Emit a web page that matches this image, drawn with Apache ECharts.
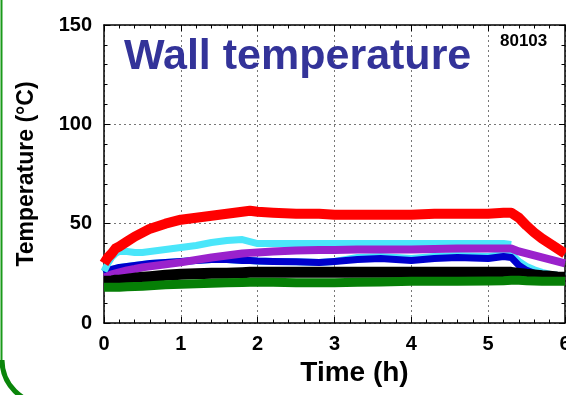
<!DOCTYPE html>
<html>
<head>
<meta charset="utf-8">
<script src="https://cdn.jsdelivr.net/npm/echarts@6/dist/echarts.min.js"></script>
<style>
  html, body { margin: 0; padding: 0; background: #fff; }
  #chart { width: 566px; height: 395px; }
</style>
</head>
<body>
<div id="chart"></div>
<script>
  // time axis (h) shared by all sensors
  var times = [0, 0.05, 0.1, 0.15, 0.2, 0.3, 0.4, 0.5, 0.6, 0.8, 1.0, 1.2, 1.4, 1.6, 1.8, 1.9, 2.0, 2.2, 2.5, 2.8,
               3.0, 3.3, 3.6, 4.0, 4.3, 4.6, 5.0, 5.2, 5.3, 5.4, 5.5, 5.6, 5.7, 5.8, 5.9, 6.0];

  var redT    = [30, 33, 35, 37.5, 38.5, 41, 43.5, 45.5, 47.5, 50, 52, 53, 54, 55, 56, 56.5, 56, 55.5, 55, 55,
                 54.5, 54.5, 54.5, 54.5, 55, 55, 55, 55.5, 55.5, 53, 49, 45.5, 42.5, 40, 37.5, 35];
  var cyanT   = [26, 30, 33, 35, 36, 36, 35.5, 35.5, 36, 37, 38, 39, 40.5, 41.5, 42, 41, 40, 40, 40, 40,
                 40, 40, 40, 40, 40, 40, 40, 40, 39.5, null, null, null, null, null, null, null];
  var cyan2T  = [25, 26, 27, 27.5, 28, 28.5, 29, 29.5, 30, 30.5, 31, 31.5, 32, 32, 31.5, 31.5, 31.2, 31, 30.8, 30.5,
                 31, 33, 33.5, 32.5, 33.5, 34, 33.5, 34.5, 34.5, 31, 28.5, 26.8, 25.5, 24.6, 24, 23.6];
  var blueT   = [25, 26, 27, 27.5, 28, 28.5, 29, 29.5, 30, 30.5, 31, 31.5, 32, 32, 31.5, 31.5, 31.2, 31, 30.8, 30.5,
                 31, 32, 32.5, 31.5, 32.5, 33, 32.5, 33.5, 33, 29, 26.5, 25, 23.5, 22.5, 22, 22];
  var purpleT = [23, 23.5, 24.5, 25, 25.5, 26.5, 27.2, 28, 28.5, 29.5, 30.5, 31.8, 33, 34, 35, 35.3, 35.5, 36, 36.5, 36.7,
                 36.8, 37, 37, 37, 37.2, 37.5, 37.5, 37.5, 37.5, 36, 35, 34, 33, 32, 31, 30];
  var blackT  = [21, 21, 21.2, 21.5, 21.5, 22, 22.5, 23, 23.3, 24, 24.5, 24.8, 25, 25, 25.3, 25.5, 25.5, 25.5, 25.5, 25.5,
                 25.5, 25.5, 25.5, 25.5, 25.5, 25.5, 25.5, 25.5, 25.5, 25, 24.5, 24.2, 23.8, 23.5, 23.2, 23];
  var greenT  = [18, 18, 18, 18, 18, 18.2, 18.4, 18.5, 18.8, 19.2, 19.5, 19.7, 20, 20.2, 20.4, 20.5, 20.5, 20.5, 20.3, 20.3,
                 20.3, 20.5, 20.7, 21, 21, 21, 21.2, 21.3, 21.5, 21.5, 21.3, 21.2, 21, 21, 21, 21];

  var xTicks = [0, 1, 2, 3, 4, 5, 6];
  var yTicks = [0, 50, 100, 150];

  var font = '"Liberation Sans", Arial, Helvetica, sans-serif';

  function pairs(vals) {
    return times.map(function (t, i) { return [t, vals[i]]; });
  }
  function line(name, vals, color, width) {
    return {
      name: name,
      type: 'line',
      showSymbol: false,
      connectNulls: false,
      data: pairs(vals),
      lineStyle: { color: color, width: width, join: 'round' },
      itemStyle: { color: color }
    };
  }

  function axisCommon(showLabel) {
    return {
      axisLine: { show: true, onZero: false, lineStyle: { color: '#000', width: 1.5 } },
      axisTick: { show: true, inside: true, length: 6, lineStyle: { color: '#000', width: 1 } },
      minorTick: { show: true, splitNumber: 5, length: 3.5, lineStyle: { color: '#000', width: 1 } },
      splitLine: { show: showLabel, lineStyle: { color: '#777', width: 1, type: [2, 3] } },
      axisLabel: { show: showLabel }
    };
  }

  var chart = echarts.init(document.getElementById('chart'));

  var xBottom = Object.assign(axisCommon(true), {
    type: 'value', position: 'bottom', min: xTicks[0], max: xTicks[xTicks.length - 1], interval: 1,
    name: 'Time (h)', nameLocation: 'middle', nameGap: 34,
    nameTextStyle: { fontFamily: font, fontWeight: 'bold', fontSize: 28, color: '#000', padding: [0, 0, 0, 40] }
  });
  xBottom.axisLabel = { show: true, margin: 11, color: '#000', fontFamily: font, fontWeight: 'bold', fontSize: 20 };

  var xTop = Object.assign(axisCommon(false), {
    type: 'value', position: 'top', min: xTicks[0], max: xTicks[xTicks.length - 1], interval: 1
  });

  var yLeft = Object.assign(axisCommon(true), {
    type: 'value', position: 'left', min: yTicks[0], max: yTicks[yTicks.length - 1], interval: 50,
    name: 'Temperature (°C)', nameLocation: 'middle', nameGap: 66,
    nameTextStyle: { fontFamily: font, fontWeight: 'bold', fontSize: 23, color: '#000' }
  });
  yLeft.axisLabel = { show: true, margin: 12, color: '#000', fontFamily: font, fontWeight: 'bold', fontSize: 20,
                      padding: [0, 0, 7, 0] };

  var yRight = Object.assign(axisCommon(false), {
    type: 'value', position: 'right', min: yTicks[0], max: yTicks[yTicks.length - 1], interval: 50
  });

  chart.setOption({
    animation: false,
    backgroundColor: '#fff',
    title: [
      { text: 'Wall temperature', left: 124, top: 36, padding: 0,
        textStyle: { fontFamily: font, fontWeight: 'bold', fontSize: 43, color: '#333399' } },
      { text: '80103', left: 500, top: 33, padding: 0,
        textStyle: { fontFamily: font, fontWeight: 'bold', fontSize: 17, color: '#000' } }
    ],
    grid: { left: 104, right: 1, top: 25, bottom: 72, containLabel: false, outerBoundsMode: 'none' },
    xAxis: [xBottom, xTop],
    yAxis: [yLeft, yRight],
    graphic: [
      { type: 'line', shape: { x1: 1.5, y1: -5, x2: 1.5, y2: 360 },
        style: { stroke: '#1a9a1a', lineWidth: 2 } },
      { type: 'arc', shape: { cx: 46, cy: 360, r: 44, startAngle: Math.PI / 2, endAngle: Math.PI },
        style: { stroke: '#0a850a', lineWidth: 5, fill: null } }
    ],
    series: [
      line('TC-6', cyan2T, '#4ae6fa', 7),
      line('TC-3', blueT, '#0000cc', 7),
      line('TC-2', cyanT, '#4ae6fa', 7),
      line('TC-4', purpleT, '#9a22cc', 8),
      line('TC-5', blackT, '#000000', 11),
      line('TC-7', greenT, '#067f06', 9),
      line('TC-1', redT, '#ff0000', 10)
    ]
  });
</script>
</body>
</html>
